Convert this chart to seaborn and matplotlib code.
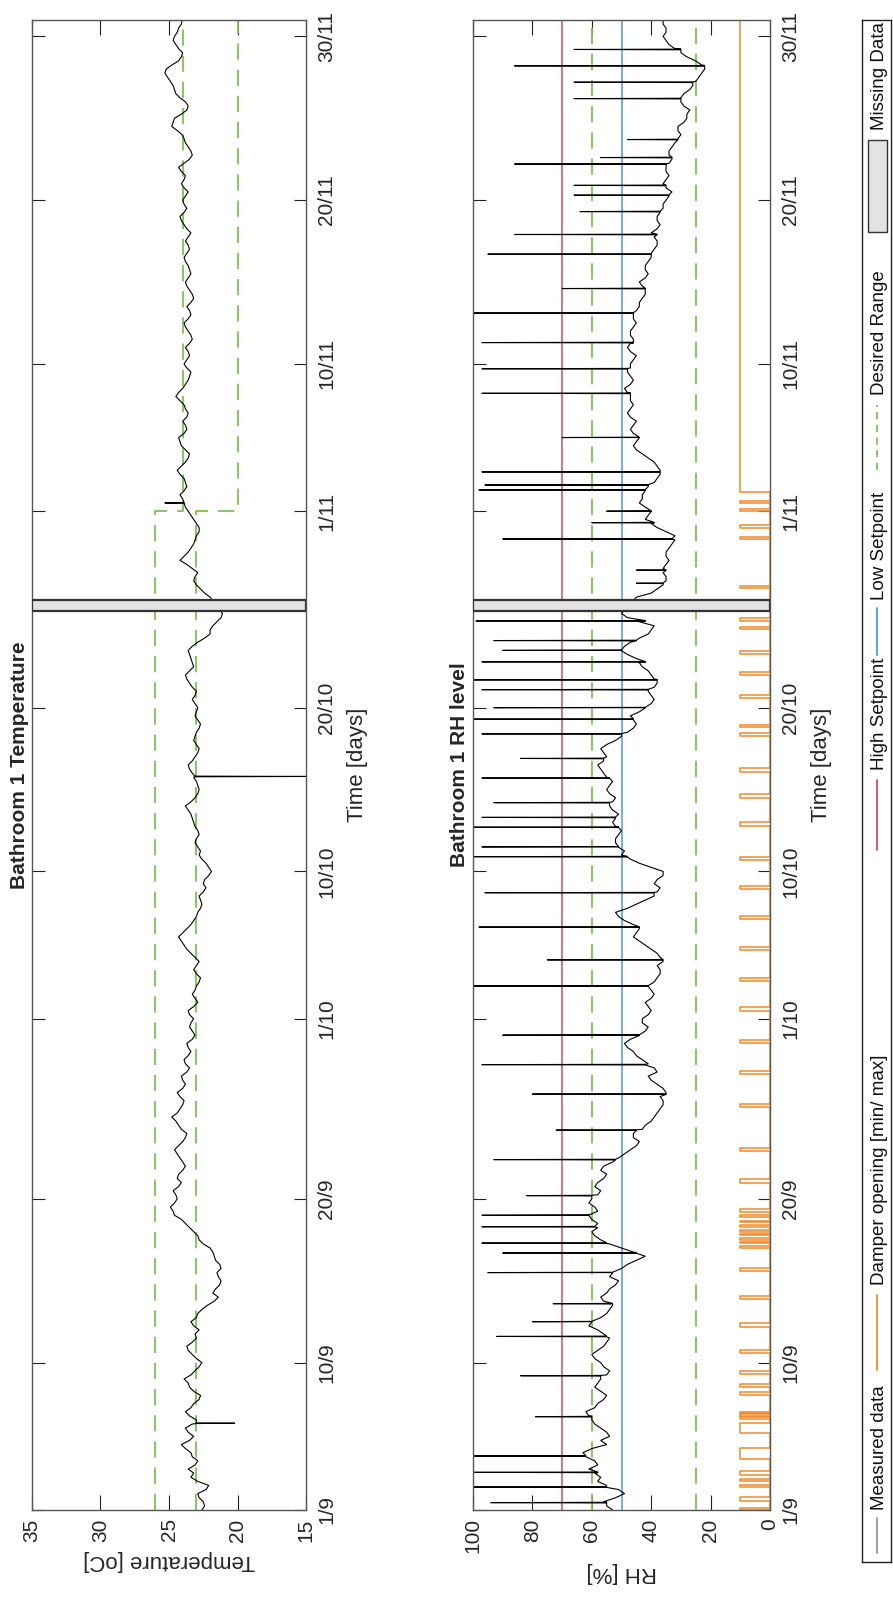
import numpy as np
import matplotlib
matplotlib.use("Agg")
import matplotlib.pyplot as plt
import seaborn as sns
from matplotlib.patches import Rectangle

sns.set_theme(style="white")
plt.rcParams['font.family'] = ['Liberation Sans', 'DejaVu Sans']

# ---- time axis: days counted from 1 September ----
tick_days = [0, 9, 19, 30, 39, 49, 61, 70, 80, 90]
tick_labels = ['1/9', '10/9', '20/9', '1/10', '10/10', '20/10', '1/11', '10/11', '20/11', '30/11']
day_max = 91
missing_span = (54.9, 55.6)

# ---- temperature: readings on the half day (None = logger offline) ----
temp_half = [
    22.6, 22.5, 22.9, 22.1, 23.4, 23.6, 22.9, 23.4, 24.1, 23.2,
    23.8, 23.0, 23.8, 23.2, 22.7, 23.5, 23.9, 23.1, 22.6, 23.3,
    23.7, 23.0, 22.8, 23.4, 22.9, 22.2, 21.4, 21.6, 21.2, 21.5,
    21.3, 21.7, 22.0, 22.8, 23.2, 23.8, 24.6, 24.9, 24.4, 24.7,
    24.1, 24.3, 23.8, 24.2, 24.6, 24.0, 23.7, 24.3, 24.8, 24.2,
    23.9, 24.4, 23.8, 24.1, 23.5, 23.9, 23.4, 23.7, 23.1, 23.5,
    23.2, 23.6, 22.9, 23.3, 23.0, 22.7, 23.2, 22.8, 23.4, 23.9,
    24.3, 23.7, 23.2, 22.9, 22.6, 22.8, 22.3, 22.4, 21.9, 22.3,
    22.8, 22.9, 23.0, 22.9, 23.2, 23.4, 23.8, 23.1, 22.8, 23.0,
    23.3, 23.6, 23.1, 22.8, 23.2, 23.0, 22.7, 23.1, 22.9, 23.3,
    23.0, 23.5, 23.8, 23.2, 23.4, 23.6, 22.9, 22.0, 21.8, 21.2,
    None, None, 22.4, 23.0, 23.1, 23.3, 24.2, 23.6, 23.2, 23.0,
    22.8, 23.2, 23.6, 23.9, 24.2, 23.7, 23.9, 24.4, 23.8, 23.5,
    24.1, 24.3, 23.7, 24.0, 23.6, 23.9, 24.5, 24.0, 23.6, 23.4,
    23.9, 23.5, 23.8, 23.3, 23.6, 23.9, 23.4, 23.7, 23.2, 23.5,
    23.8, 23.4, 23.6, 23.9, 23.5, 23.8, 23.4, 23.9, 24.2, 23.7,
    24.0, 23.6, 24.1, 23.8, 24.3, 23.5, 23.4, 23.8, 24.05, 24.8,
    24.6, 23.7, 23.8, 24.5, 24.7, 25.1, 25.2, 24.3, 24.0, 24.5,
    24.6, 24.3, 24.05,
]
# readings a quarter day after each half-day reading
temp_quarter = [
    22.4, 22.8, 22.3, 22.9, 23.2, 23.1, 23.3, 23.8, 23.5, 23.6,
    23.3, 23.5, 23.4, 22.8, 23.2, 23.6, 23.4, 22.8, 23.0, 23.6,
    23.3, 23.1, 23.2, 23.0, 22.6, 21.7, 21.8, 21.3, 21.4, 21.2,
    21.6, 21.8, 22.5, 22.9, 23.5, 24.1, 24.7, 24.6, 24.5, 24.3,
    24.4, 24.0, 24.0, 24.4, 24.3, 23.8, 24.1, 24.5, 24.4, 24.0,
    24.2, 24.0, 24.0, 23.7, 23.8, 23.6, 23.6, 23.3, 23.3, 23.4,
    23.5, 23.2, 23.1, 23.1, 22.8, 23.0, 23.0, 23.1, 23.7, 24.1,
    24.0, 23.4, 23.0, 22.7, 22.7, 22.5, 22.5, 22.1, 22.1, 22.6,
    22.7, 23.1, 22.8, 23.1, 23.3, 23.6, 23.4, 22.9, 22.9, 23.2,
    23.5, 23.3, 22.9, 23.0, 23.1, 22.8, 22.9, 23.0, 23.1, 23.1,
    23.3, 23.7, 23.5, 23.3, 23.5, 23.3, 22.4, 22.0, 21.5, 21.1,
    None, 22.0, 22.7, 23.2, 22.9, 23.7, 23.9, 23.4, 23.1, 22.8,
    23.0, 23.4, 23.8, 24.0, 23.9, 23.8, 24.2, 24.1, 23.6, 23.8,
    24.2, 23.9, 23.8, 23.7, 23.8, 24.2, 24.3, 23.8, 23.5, 23.7,
    23.7, 23.6, 23.5, 23.4, 23.8, 23.6, 23.5, 23.4, 23.3, 23.7,
    23.6, 23.5, 23.8, 23.7, 23.6, 23.6, 23.7, 24.1, 23.9, 23.9,
    23.8, 23.9, 23.9, 24.1, 23.9, 23.3, 23.6, 23.9, 24.4, 24.7,
    24.1, 23.6, 24.2, 24.6, 24.9, 25.3, 24.8, 24.1, 24.3, 24.7,
    24.4, 24.1,
]
# single-sample excursions: (day, level around it, peak)
temp_spikes = [(5.3, 23.0, 20.2), (44.8, 23.1, 15.0), (61.5, 23.9, 25.3)]

temp_desired_low = [23, 23, 20, 20]
temp_desired_high = [26, 26, 24, 24]
setpoint_days = [0, 61, 61, day_max]

# ---- relative humidity: readings on the half day ----
rh_half = [
    53, 56, 49, 55, 57, 61, 59, 63, 55, 54,
    57, 60, 62, 58, 55, 59, 57, 54, 57, 60,
    56, 54, 58, 60, 55, 53, 57, 54, 51, 53,
    48, 42, 50, 57, 60, 58, 61, 59, 60, 57,
    58, 55, 56, 51, 47, 44, 46, 42, 39, 37,
    36, 35, 38, 41, 39, 43, 46, 49, 44, 41,
    43, 40, 42, 39, 41, 38, 37, 36, 38, 42,
    46, 44, 49, 52, 45, 39, 37, 38, 36, 44,
    50, 51, 52, 50, 53, 51, 54, 52, 55, 53,
    56, 58, 55, 57, 52, 48, 45, 47, 42, 39,
    41, 38, 40, 43, 45, 50, 47, 41, 39, 48,
    None, None, 40, 36, 35, 36, 34, 35, 33, 32,
    38, 42, 40, 44, 43, 41, 38, 37, 39, 43,
    46, 44, 47, 45, 48, 46, 47, 49, 46, 48,
    47, 45, 48, 46, 47, 45, 46, 44, 43, 42,
    44, 41, 42, 40, 39, 38, 40, 37, 38, 36,
    35, 33, 36, 34, 35, 33, 34, 32, 30, 31,
    28, 27, 30, 29, 26, 24, 22, 25, 30, 34,
    36, 35, 36,
]
rh_quarter = [
    55, 52, 51, 58, 59, 58, 62, 60, 57, 55,
    59, 61, 59, 56, 57, 58, 55, 56, 59, 58,
    55, 56, 61, 57, 54, 56, 55, 52, 54, 50,
    45, 46, 54, 59, 58, 60, 58, 61, 58, 59,
    56, 57, 53, 49, 45, 46, 43, 40, 38, 36,
    37, 36, 40, 38, 41, 45, 48, 47, 42, 43,
    41, 41, 40, 40, 39, 37, 38, 37, 40, 44,
    45, 46, 51, 48, 42, 38, 39, 36, 40, 47,
    49, 52, 51, 52, 52, 53, 53, 54, 54, 55,
    57, 56, 56, 55, 50, 46, 46, 44, 40, 40,
    39, 39, 41, 44, 48, 49, 44, 40, 44, 50,
    None, 45, 38, 35, 36, 35, 35, 34, 32, 35,
    40, 41, 42, 43, 42, 39, 37, 38, 41, 45,
    45, 46, 46, 47, 47, 47, 48, 47, 47, 47,
    46, 47, 47, 47, 46, 46, 45, 44, 42, 43,
    42, 42, 41, 40, 38, 39, 38, 38, 37, 36,
    34, 35, 35, 35, 34, 34, 33, 31, 31, 29,
    28, 29, 30, 27, 25, 23, 23, 28, 32, 35,
    35, 36,
]
rh_spikes = [(0.45, 55, 94), (1.4, 55, 100), (2.3, 58, 100), (3.3, 62, 100),
             (5.7, 60, 79), (8.2, 57, 84), (10.6, 55, 92), (11.5, 60, 80),
             (12.6, 53, 73), (14.5, 53, 95), (15.7, 45, 90), (16.3, 55, 97),
             (17.3, 59, 97), (18.0, 61, 97), (19.2, 60, 82), (21.4, 52, 93),
             (23.2, 45, 72), (25.4, 35, 80), (27.2, 42, 97), (29.0, 44, 90),
             (32.0, 41, 100), (33.6, 36, 75), (35.6, 44, 98), (37.7, 39, 96),
             (39.9, 48, 100), (40.5, 51, 97), (41.7, 51, 100), (42.3, 52, 97),
             (43.2, 54, 93), (44.7, 54, 97), (45.9, 56, 84), (47.4, 50, 97),
             (48.3, 46, 100), (49.0, 42, 93), (50.1, 41, 97), (50.7, 38, 100),
             (51.8, 42, 97), (52.5, 50, 90), (53.1, 45, 93), (54.3, 42, 99),
             (56.6, 36, 45), (57.4, 35, 45), (59.3, 33, 90), (60.3, 39, 60),
             (61.0, 40, 55), (62.3, 42, 98), (62.6, 41, 96), (63.4, 37, 97),
             (65.5, 44, 70), (68.2, 47, 97), (69.7, 48, 97), (71.3, 46, 97),
             (73.1, 46, 100), (74.6, 42, 70), (76.7, 40, 95), (77.9, 38, 86),
             (79.3, 37, 64), (80.3, 34, 66), (80.9, 35, 66), (82.2, 35, 86),
             (82.6, 33, 57), (83.7, 31, 48), (86.2, 30, 66), (87.2, 26, 66),
             (88.2, 22, 86), (89.2, 30, 66)]
rh_high_setpoint = 70
rh_low_setpoint = 50
rh_desired_low = 25
rh_desired_high = 60

# ---- damper (min / max position): periods spent at max ----
damper_min, damper_max = 0, 10
damper_open = [(0.0, 0.15), (0.55, 0.8), (1.4, 1.55), (1.75, 1.9), (2.15, 2.4),
               (3.1, 3.8), (4.7, 5.3), (5.55, 5.65), (5.75, 5.85), (5.92, 6.0),
               (7.0, 7.2), (7.5, 7.7), (8.3, 8.5), (9.6, 9.8), (11.2, 11.4),
               (12.9, 13.1), (14.6, 14.8), (16.0, 16.1), (16.3, 16.38), (16.5, 16.6),
               (16.8, 16.88), (17.0, 17.1), (17.3, 17.4), (17.6, 17.68), (17.9, 18.0),
               (18.2, 18.4), (20.0, 20.2), (21.9, 22.1), (24.6, 24.8), (26.6, 26.8),
               (28.5, 28.7), (30.5, 30.7), (32.3, 32.5), (34.2, 34.4), (36.1, 36.3),
               (37.9, 38.1), (39.7, 39.9), (41.8, 42.0), (43.5, 43.7), (45.1, 45.3),
               (47.3, 47.45), (47.8, 47.95), (49.6, 49.8), (51.0, 51.2), (52.3, 52.45),
               (53.8, 53.95), (54.3, 54.45), (56.3, 56.45), (59.3, 59.45), (60.0, 60.15),
               (61.0, 61.15), (61.5, 61.65), (62.2, day_max)]


def readings(half, quarter):
    pts = [(i * 0.5, v) for i, v in enumerate(half) if v is not None]
    pts += [(i * 0.5 + 0.25, v) for i, v in enumerate(quarter) if v is not None]
    return pts


def with_spikes(half, quarter, spikes):
    pts = readings(half, quarter)
    for d, base, peak in spikes:
        pts += [(d - 0.02, base), (d, peak), (d + 0.02, base)]
    pts.sort(key=lambda p: p[0])
    d_arr, v_arr = zip(*pts)
    return np.array(d_arr), np.array(v_arr)


def damper_series(intervals):
    d_list, v_list = [0.0], [damper_min]
    for s, e in intervals:
        d_list += [s, s, e, e]
        v_list += [damper_min, damper_max, damper_max, damper_min]
    if e >= day_max:
        d_list, v_list = d_list[:-1], v_list[:-1]
    return np.array(d_list), np.array(v_list)


W, H = 893, 1605
fig = plt.figure(figsize=(W / 100, H / 100), dpi=100)
ax1 = fig.add_axes([32 / W, 95 / H, 274 / W, 1490 / H])
ax2 = fig.add_axes([473 / W, 95 / H, 297 / W, 1490 / H])
axl = fig.add_axes([862 / W, 43 / H, 29 / W, 1542 / H])

green = '#7cc150'
red = '#c8505f'
blue = '#4d9ad6'
orange = '#ef8a2e'
frame = '#555555'
dash = (0, (9, 5.5))


def vline(ax, value, color, style='-', lw=1.1):
    sns.lineplot(x=[value, value], y=[0, day_max], sort=False, orient='y',
                 estimator=None, color=color, linewidth=lw, linestyle=style, ax=ax)


def style_axes(ax, vmin, vmax, vticks, vlabel, title):
    ax.set_xlim(vmax, vmin)
    ax.set_ylim(0, day_max)
    ax.set_xticks(vticks)
    ax.set_xticklabels([str(v) for v in vticks], rotation=90, fontsize=15)
    ax.set_yticks(tick_days)
    ax.set_yticklabels(tick_labels, rotation=90, va='center', fontsize=15)
    ax.yaxis.tick_right()
    ax.yaxis.set_label_position('right')
    ax.tick_params(axis='x', which='both', direction='in', top=True, bottom=True,
                   length=11, width=0.8, color='#222222', pad=6, labelcolor='#262626')
    ax.tick_params(axis='y', which='both', direction='in', left=True, right=True,
                   length=9, width=0.8, color='#222222', pad=8, labelcolor='#262626')
    for sp in ax.spines.values():
        sp.set_color(frame)
        sp.set_linewidth(1.0)
    ax.set_xlabel(vlabel, rotation=180, fontsize=16, color='#262626', labelpad=6)
    ax.set_ylabel('Time [days]', rotation=90, fontsize=16, color='#262626', labelpad=8)
    ax.text(-0.044, 0.5, title, transform=ax.transAxes, rotation=90,
            ha='center', va='center', fontsize=15, fontweight='bold')
    ax.axhspan(missing_span[0], missing_span[1], facecolor='#e3e3e3',
               edgecolor='#333333', linewidth=1.6, zorder=4)
    ax.grid(False)


# temperature panel
td, tv = with_spikes(temp_half, temp_quarter, temp_spikes)
for level in (temp_desired_high, temp_desired_low):
    sns.lineplot(x=level, y=setpoint_days, sort=False, orient='y', estimator=None,
                 color=green, linewidth=1.3, linestyle=dash, ax=ax1)
sns.lineplot(x=tv, y=td, sort=False, orient='y', estimator=None,
             color='black', linewidth=0.8, ax=ax1)
style_axes(ax1, 15, 35, [35, 30, 25, 20, 15], 'Temperature [oC]', 'Bathroom 1 Temperature')

# humidity panel
rd, rv = with_spikes(rh_half, rh_quarter, rh_spikes)
dd, dv = damper_series(damper_open)
vline(ax2, rh_high_setpoint, red)
vline(ax2, rh_low_setpoint, blue)
vline(ax2, rh_desired_high, green, dash, 1.3)
vline(ax2, rh_desired_low, green, dash, 1.3)
sns.lineplot(x=dv, y=dd, sort=False, orient='y', estimator=None,
             color=orange, linewidth=1.1, ax=ax2)
sns.lineplot(x=rv, y=rd, sort=False, orient='y', estimator=None,
             color='black', linewidth=0.8, ax=ax2)
style_axes(ax2, 0, 100, [100, 80, 60, 40, 20, 0], 'RH [%]', 'Bathroom 1 RH level')

# legend, laid out along the strip in pixel rows
axl.set_xlim(0, 1)
axl.set_ylim(1562, 20)
axl.set_xticks([])
axl.set_yticks([])
for sp in axl.spines.values():
    sp.set_color('#222222')
    sp.set_linewidth(1.0)
legend_items = [
    ('Measured data', 'line', '#999999', 1553, 1518, 1510),
    ('Damper opening [min/ max]', 'line', orange, 1370, 1295, 1285),
    ('High Setpoint', 'line', red, 850, 780, 770),
    ('Low Setpoint', 'line', blue, 655, 608, 600),
    ('Desired Range', 'dash', green, 470, 405, 395),
    ('Missing Data', 'patch', None, 232, 140, 130),
]
for label, kind, col, y0, y1, ty in legend_items:
    if kind == 'patch':
        axl.add_patch(Rectangle((0.2, y1), 0.66, y0 - y1, facecolor='#e3e3e3',
                                edgecolor='#333333', linewidth=1.0))
    else:
        axl.plot([0.52, 0.52], [y0, y1], color=col, linewidth=1.3,
                 linestyle=(0, (4, 3)) if kind == 'dash' else '-')
    axl.text(0.62, ty, label, rotation=90, ha='center', va='bottom',
             fontsize=13.5, color='#111111')

fig.savefig('out.png', dpi=100)
